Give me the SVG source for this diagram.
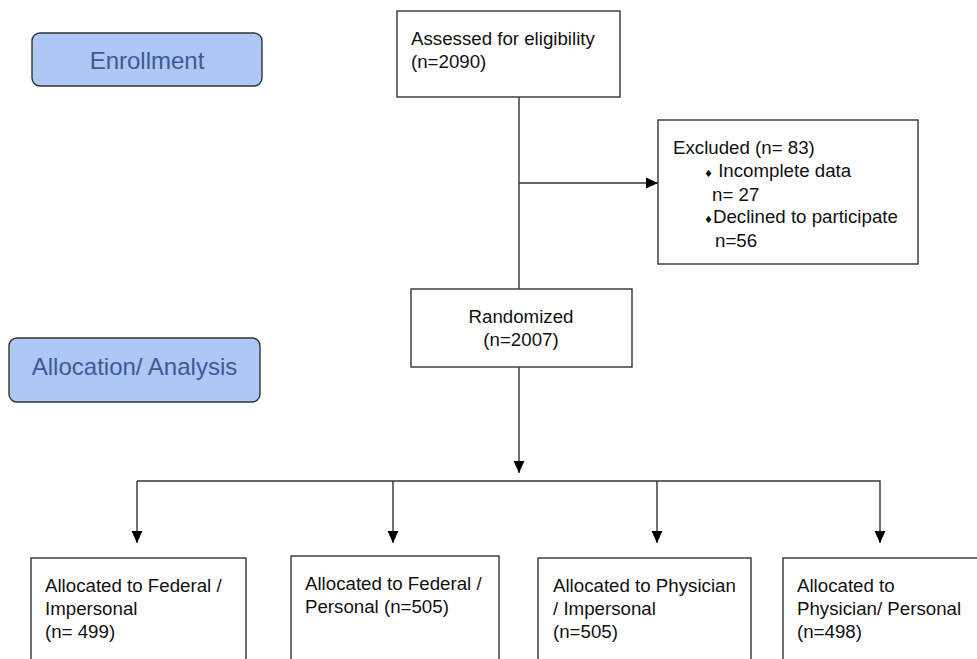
<svg xmlns="http://www.w3.org/2000/svg" width="977" height="659" viewBox="0 0 977 659">
<defs>
<marker id="ah" markerUnits="userSpaceOnUse" markerWidth="12" markerHeight="12" viewBox="0 0 11 10" refX="11" refY="5" orient="auto">
<path d="M0,0 L11,5 L0,10 Z" fill="#000"/>
</marker>
</defs>
<style>
.box{fill:#fff;stroke:#333;stroke-width:1.4}
.phase{fill:#aec7f4;stroke:#333;stroke-width:1.4}
.pt{font-family:"Liberation Sans",Arial,sans-serif;font-size:24px;fill:#3d5a96}
.t{font-family:"Liberation Sans",Arial,sans-serif;font-size:18.7px;fill:#111}
.b{font-family:"DejaVu Sans",sans-serif;font-size:10px}
.ln{fill:none;stroke:#333;stroke-width:1.4}
</style>
<rect width="977" height="659" fill="#fff"/>
<g id="enrollment">
<rect class="phase" x="32" y="33" width="230" height="53" rx="8"/>
<text class="pt" x="147" y="69" text-anchor="middle">Enrollment</text>
</g>
<g id="allocation">
<rect class="phase" x="9" y="338" width="251" height="64" rx="8"/>
<text class="pt" x="134.5" y="375" text-anchor="middle">Allocation/ Analysis</text>
</g>
<g id="connectors">
<line class="ln" x1="519" y1="97" x2="519" y2="289"/>
<line class="ln" x1="519" y1="183" x2="658" y2="183" marker-end="url(#ah)"/>
<line class="ln" x1="519" y1="367" x2="519" y2="473" marker-end="url(#ah)"/>
<polyline class="ln" points="137,481 880,481 880,543" marker-end="url(#ah)"/>
<line class="ln" x1="137" y1="481" x2="137" y2="543" marker-end="url(#ah)"/>
<line class="ln" x1="393" y1="481" x2="393" y2="543" marker-end="url(#ah)"/>
<line class="ln" x1="657" y1="481" x2="657" y2="543" marker-end="url(#ah)"/>
</g>
<g id="assessed">
<rect class="box" x="397" y="11" width="223" height="86"/>
<text class="t" x="411" y="45">Assessed for eligibility</text>
<text class="t" x="411" y="68">(n=2090)</text>
</g>
<g id="excluded">
<rect class="box" x="658" y="120" width="260" height="144"/>
<text class="t" x="673" y="154">Excluded (n= 83)</text>
<text class="t" x="704" y="177"><tspan class="b">♦</tspan> Incomplete data</text>
<text class="t" x="712" y="201">n= 27</text>
<text class="t" x="704" y="223"><tspan class="b">♦</tspan>Declined to participate</text>
<text class="t" x="715" y="247">n=56</text>
</g>
<g id="randomized">
<rect class="box" x="411" y="289" width="221" height="78"/>
<text class="t" x="521" y="323" text-anchor="middle">Randomized</text>
<text class="t" x="521" y="346" text-anchor="middle">(n=2007)</text>
</g>
<g id="arm1">
<rect class="box" x="31" y="558" width="215" height="120"/>
<text class="t" x="45" y="592">Allocated to Federal /</text>
<text class="t" x="45" y="615">Impersonal</text>
<text class="t" x="45" y="638">(n= 499)</text>
</g>
<g id="arm2">
<rect class="box" x="291" y="556" width="208" height="120"/>
<text class="t" x="305" y="590">Allocated to Federal /</text>
<text class="t" x="305" y="613">Personal (n=505)</text>
</g>
<g id="arm3">
<rect class="box" x="538" y="558" width="213" height="120"/>
<text class="t" x="553" y="592">Allocated to Physician</text>
<text class="t" x="553" y="615">/ Impersonal</text>
<text class="t" x="553" y="638">(n=505)</text>
</g>
<g id="arm4">
<rect class="box" x="783" y="558" width="200" height="120"/>
<text class="t" x="797" y="592">Allocated to</text>
<text class="t" x="797" y="615">Physician/ Personal</text>
<text class="t" x="797" y="638">(n=498)</text>
</g>
</svg>
